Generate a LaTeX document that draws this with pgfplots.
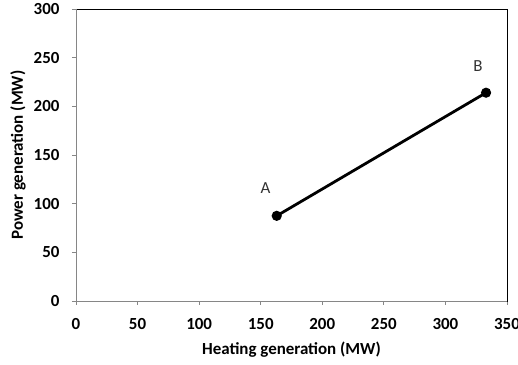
\documentclass[border=0pt]{standalone}
\usepackage{pgfplots}
\pgfplotsset{compat=1.18}
\usepackage{fontspec}
\setmainfont{Carlito}
\definecolor{axgray}{HTML}{868686}
\begin{document}
\begin{tikzpicture}
\useasboundingbox (-76bp,-64bp) rectangle (442bp,301bp);
\begin{axis}[
  at={(0,0)}, anchor=south west,
  width=431bp, height=292bp, scale only axis,
  xmin=0, xmax=350, ymin=0, ymax=300,
  xtick={0,50,...,350}, ytick={0,50,...,300},
  tick align=outside, xtick pos=left, ytick pos=left,
  major tick length=4bp,
  tick style={color=axgray, line width=0.8bp},
  axis line style={black, line width=0.8bp},
  /pgf/number format/assume math mode=true,
  ticklabel style={font=\fontsize{17}{20}\selectfont\bfseries},
  xticklabel style={yshift=-10bp},
  yticklabel style={xshift=-9bp},
  label style={font=\fontsize{17}{20}\selectfont\bfseries},
  xlabel={Heating generation (MW)},
  ylabel={Power generation (MW)},
  xlabel style={at={(axis description cs:0.5,-0.168)}, anchor=center},
  ylabel style={at={(axis description cs:-0.1346,0.5)}, anchor=center},
  after end axis/.code={\draw[axgray, line width=0.8bp] (rel axis cs:0,1) -- (rel axis cs:0,0) -- (rel axis cs:1,0);},
]
\addplot[black, line width=2.8bp, mark=*, mark size=3.6bp] coordinates {(163,87.5) (333,214)};
\node[font=\fontsize{17}{20}\selectfont, text=black!80] at (axis cs:154,116) {A};
\node[font=\fontsize{17}{20}\selectfont, text=black!80] at (axis cs:326.5,241) {B};
\end{axis}
\end{tikzpicture}
\end{document}
